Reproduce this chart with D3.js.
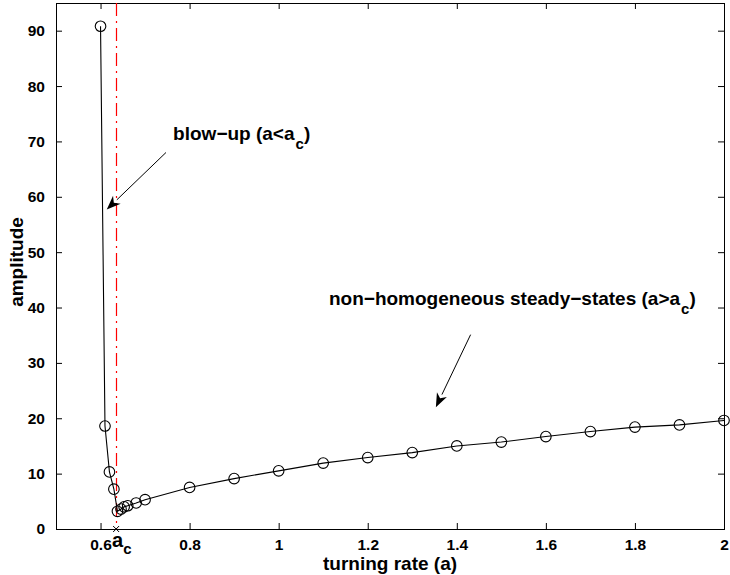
<!DOCTYPE html>
<html>
<head>
<meta charset="utf-8">
<script src="https://cdn.jsdelivr.net/npm/d3@7"></script>
<style>
  body { margin: 0; background: #fff; }
  svg { display: block; font-family: "Liberation Sans", Arial, sans-serif; font-weight: bold; }
</style>
</head>
<body>
<div id="container"></div>
<script>
//---------- DATA ----------//
// turning rate (a) and amplitude
const rates = [0.6, 0.61, 0.62, 0.63, 0.638, 0.646, 0.653, 0.661, 0.68, 0.7,
               0.8, 0.9, 1.0, 1.1, 1.2, 1.3, 1.4, 1.5, 1.6, 1.7, 1.8, 1.9, 2.0];
const amplitudes = [90.8, 18.6, 10.3, 7.2, 3.2, 3.6, 4.0, 4.2, 4.7, 5.3,
                    7.5, 9.1, 10.5, 11.9, 12.9, 13.8, 15.0, 15.7, 16.7, 17.6, 18.4, 18.8, 19.6];
const aCrit = 0.635;
const xTicks = [0.6, 0.8, 1, 1.2, 1.4, 1.6, 1.8, 2];
const yTicks = [0, 10, 20, 30, 40, 50, 60, 70, 80, 90];

//---------- SVG ----------//
const width = 730;
const height = 575;
const plotL = 56, plotR = 724, plotT = 3, plotB = 529;
const tickLen = 6;

const svg = d3.select("div#container")
    .append("svg")
    .attr("width", width)
    .attr("height", height);

//---------- SCALES ----------//
const xScale = d3.scaleLinear().domain([0.5, 2]).range([plotL, plotR]);
const yScale = d3.scaleLinear().domain([0, 95]).range([plotB, plotT]);

//---------- AXES ----------//
// matlab style: ticks inside on all four sides
const xBottom = d3.axisBottom(xScale).tickValues(xTicks).tickSizeInner(-tickLen).tickSizeOuter(0)
    .tickPadding(10).tickFormat(d3.format("~g"));
const xTop = d3.axisTop(xScale).tickValues(xTicks).tickSizeInner(-tickLen).tickSizeOuter(0).tickFormat("");
const yLeft = d3.axisLeft(yScale).tickValues(yTicks).tickSizeInner(-tickLen).tickSizeOuter(0).tickPadding(11);
const yRight = d3.axisRight(yScale).tickValues(yTicks).tickSizeInner(-tickLen).tickSizeOuter(0).tickFormat("");

function styleAxis(g) {
    g.select(".domain").remove();
    g.selectAll(".tick line").attr("stroke", "#000");
    g.selectAll(".tick text")
        .attr("fill", "#000")
        .style("font-size", "15.5px")
        .style("font-weight", "bold")
        .style("font-family", "'Liberation Sans', Arial, sans-serif");
}

svg.append("g").attr("transform", `translate(0,${plotB})`).call(xBottom).call(styleAxis);
svg.append("g").attr("transform", `translate(0,${plotT})`).call(xTop).call(styleAxis);
svg.append("g").attr("transform", `translate(${plotL},0)`).call(yLeft).call(styleAxis);
svg.append("g").attr("transform", `translate(${plotR},0)`).call(yRight).call(styleAxis);

// frame
svg.append("rect")
    .attr("x", plotL + 0.5).attr("y", plotT + 0.5)
    .attr("width", plotR - plotL).attr("height", plotB - plotT)
    .attr("fill", "none").attr("stroke", "#000").attr("stroke-width", 1);

//---------- CRITICAL LINE ----------//
const critX = Math.round(xScale(aCrit)) + 0.5;
svg.append("line")
    .attr("x1", critX).attr("x2", critX)
    .attr("y1", yScale(95)).attr("y2", yScale(0))
    .attr("stroke", "#ff0000").attr("stroke-width", 1.2)
    .attr("stroke-dasharray", "13,5,2,5");

//---------- LINE ----------//
const points = rates.map((a, i) => ({ x: a, y: amplitudes[i] }));

svg.append("path")
    .datum(points)
    .attr("d", d3.line().x(d => xScale(d.x)).y(d => yScale(d.y)))
    .attr("fill", "none")
    .attr("stroke", "#000")
    .attr("stroke-width", 1.1);

svg.selectAll("circle.pt")
    .data(points)
    .join("circle")
    .attr("class", "pt")
    .attr("cx", d => xScale(d.x))
    .attr("cy", d => yScale(d.y))
    .attr("r", 5.3)
    .attr("fill", "none")
    .attr("stroke", "#000")
    .attr("stroke-width", 1.1);

// x marker at a_c on the axis
const cx = xScale(aCrit), cy = yScale(0);
svg.append("path")
    .attr("d", `M${cx - 3},${cy - 3}L${cx + 3},${cy + 3}M${cx - 3},${cy + 3}L${cx + 3},${cy - 3}`)
    .attr("stroke", "#000").attr("stroke-width", 1);

// a_c label under the axis
const acLabel = svg.append("text")
    .attr("x", cx - 4).attr("y", 547)
    .style("font-size", "20px");
acLabel.append("tspan").text("a");
acLabel.append("tspan").attr("dy", 7).style("font-size", "15px").text("c");

//---------- AXIS TITLES ----------//
svg.append("text")
    .attr("x", (plotL + plotR) / 2).attr("y", 570)
    .attr("text-anchor", "middle")
    .style("font-size", "19px")
    .text("turning rate (a)");

svg.append("text")
    .attr("transform", `translate(23,${(plotT + plotB) / 2 - 4}) rotate(-90)`)
    .attr("text-anchor", "middle")
    .style("font-size", "19px")
    .text("amplitude");

//---------- ANNOTATIONS ----------//
const notes = [
    { text: "blow\u2212up (a<a", close: ")", x: 0.763, y: 70.3, from: [0.747, 68.0], to: [0.614, 57.7] },
    { text: "non\u2212homogeneous steady\u2212states (a>a", close: ")", x: 1.113, y: 40.4, from: [1.431, 35.1], to: [1.353, 22.0] }
];

notes.forEach(n => {
    const t = svg.append("text")
        .attr("x", xScale(n.x)).attr("y", yScale(n.y))
        .style("font-size", "19px");
    t.append("tspan").text(n.text);
    t.append("tspan").attr("dy", 9).attr("dx", 1).style("font-size", "15px").text("c");
    t.append("tspan").attr("dy", -9).text(n.close);

    const x1 = xScale(n.from[0]), y1 = yScale(n.from[1]);
    const x2 = xScale(n.to[0]), y2 = yScale(n.to[1]);
    const ang = Math.atan2(y2 - y1, x2 - x1);
    const headLen = 14, headW = 5.5;
    const bx = x2 - headLen * Math.cos(ang), by = y2 - headLen * Math.sin(ang);
    const nx = -Math.sin(ang), ny = Math.cos(ang);
    svg.append("line")
        .attr("x1", x1).attr("y1", y1).attr("x2", bx).attr("y2", by)
        .attr("stroke", "#000").attr("stroke-width", 1);
    const notch = [x2 - headLen * 0.7 * Math.cos(ang), y2 - headLen * 0.7 * Math.sin(ang)];
    svg.append("path")
        .attr("d", `M${x2},${y2}L${bx + nx * headW},${by + ny * headW}L${notch[0]},${notch[1]}L${bx - nx * headW},${by - ny * headW}Z`)
        .attr("fill", "#000");
});
</script>
</body>
</html>
